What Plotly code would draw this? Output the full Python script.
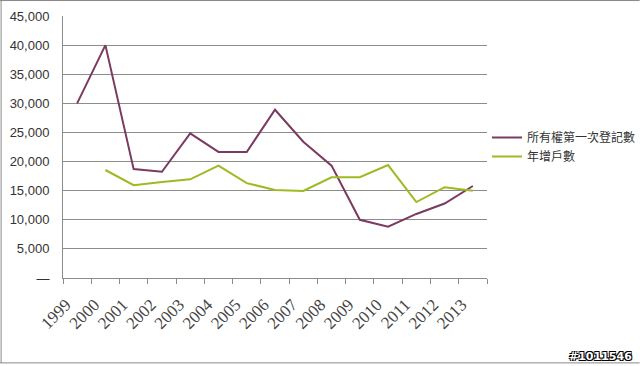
import plotly.graph_objects as go

years = ["1999", "2000", "2001", "2002", "2003", "2004", "2005", "2006",
         "2007", "2008", "2009", "2010", "2011", "2012", "2013"]
first_reg = [30000, 40000, 18700, 18250, 24850, 21650, 21650, 28900,
             23400, 19300, 10000, 8800, 11000, 12800, 15800]
households = [None, 18550, 15950, 16500, 16950, 19300, 16300, 15100,
              14950, 17300, 17300, 19400, 13050, 15600, 15000]
name_a = "所有權第一次登記數"
name_b = "年增戶數"
y_ticks = [0, 5000, 10000, 15000, 20000, 25000, 30000, 35000, 40000, 45000]
y_ticktext = ["—", "5,000", "10,000", "15,000", "20,000", "25,000",
              "30,000", "35,000", "40,000", "45,000"]

fig = go.Figure()
fig.add_trace(go.Scatter(x=years, y=first_reg, name=name_a, mode="lines",
                         line=dict(color="#7b3a60", width=2)))
fig.add_trace(go.Scatter(x=years, y=households, name=name_b, mode="lines",
                         line=dict(color="#9cbb22", width=2)))

fig.update_layout(
    width=640, height=366,
    margin=dict(l=63, r=153, t=16, b=88, autoexpand=False),
    paper_bgcolor="white", plot_bgcolor="white",
    showlegend=True,
    legend=dict(x=1.0, xanchor="left", y=0.5, yanchor="middle",
                font=dict(family="Noto Sans CJK TC", size=12, color="#333"),
                itemwidth=30, tracegroupgap=0, bgcolor="rgba(0,0,0,0)"),
    xaxis=dict(type="category", range=[-0.5, 14.5], showgrid=False, automargin=False,
               showline=True, linecolor="#8c8c8c", linewidth=1,
               ticks="outside", tickson="boundaries", ticklen=5, tickcolor="#8c8c8c",
               tickangle=-45, ticklabelshift=-11, ticklabelstandoff=9,
               tickfont=dict(family="Liberation Serif", size=17, color="#444")),
    yaxis=dict(range=[0, 45000], tickvals=y_ticks, ticktext=y_ticktext, automargin=False,
               showgrid=True, gridcolor="#8c8c8c", gridwidth=1,
               showline=True, linecolor="#8c8c8c", linewidth=1,
               zeroline=False, ticks="", ticklabelstandoff=10,
               tickfont=dict(family="Liberation Sans", size=13, color="#333")),
    annotations=[dict(text="<b>#1011546</b>", xref="paper", yref="paper",
                      x=1.347, y=-0.298, xanchor="right", yanchor="middle",
                      showarrow=False,
                      font=dict(family="DejaVu Sans", size=11, color="white",
                                shadow="-1px -1px 0 #000, 1px -1px 0 #000, -1px 1px 0 #000, 1px 1px 0 #000"))],
    shapes=[
        dict(type="line", xref="paper", yref="paper", x0=-0.15, x1=1.36, y0=1.059, y1=1.059,
             line=dict(color="#888", width=1)),
        dict(type="line", xref="paper", yref="paper", x0=-0.146, x1=-0.146, y0=1.059, y1=-0.324,
             line=dict(color="#888", width=1)),
        dict(type="line", xref="paper", yref="paper", x0=-0.15, x1=1.36, y0=-0.324, y1=-0.324,
             line=dict(color="#888", width=1)),
    ],
)

fig.write_html("out.html", config={"displayModeBar": False},
               post_script="document.body.style.margin='0';document.body.style.overflow='hidden';")
